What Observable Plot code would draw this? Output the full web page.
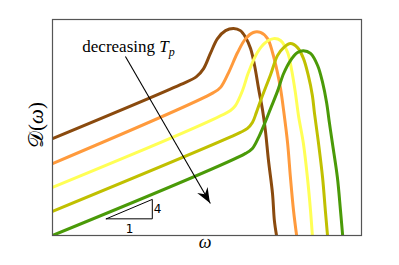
<!DOCTYPE html>
<html>
<head>
<meta charset="utf-8">
<script src="https://cdn.jsdelivr.net/npm/d3@7"></script>
<script src="https://cdn.jsdelivr.net/npm/@observablehq/plot@0.6"></script>
<style>
  html, body { margin: 0; padding: 0; background: #fff; }
  #chart { width: 399px; height: 265px; }
</style>
</head>
<body>
<div id="chart"></div>
<script>
// Series names (decreasing T_p from brown to green) and colours
const seriesNames = ["Tp1", "Tp2", "Tp3", "Tp4", "Tp5"];
const seriesColors = ["#8a4a0e", "#ff9a3c", "#ffff55", "#c0c000", "#4a9a08"];

// log ω and log D(ω) (arbitrary units)
const brownX  = [0, 4.14, 4.66, 4.89, 5.11, 5.34, 5.60, 5.86, 6.08, 6.25, 6.41, 6.54, 6.67, 6.80, 6.89, 6.99, 7.12, 7.18, 7.25];
const brownY  = [3.14, 4.89, 5.15, 5.41, 5.90, 6.38, 6.64, 6.71, 6.64, 6.42, 6.06, 5.51, 4.76, 4.05, 3.40, 2.43, 1.36, 0.49, 0];
const orangeX = [0, 5.21, 5.44, 5.70, 5.99, 6.25, 6.50, 6.73, 6.96, 7.12, 7.28, 7.38, 7.48, 7.61, 7.70, 7.80, 7.90];
const orangeY = [2.33, 4.63, 4.80, 5.28, 5.93, 6.38, 6.58, 6.58, 6.38, 5.93, 5.28, 4.76, 4.05, 2.98, 1.88, 0.81, 0];
const yellowX = [0, 5.76, 5.92, 6.15, 6.34, 6.63, 6.89, 7.15, 7.38, 7.61, 7.73, 7.86, 7.96, 8.12, 8.25, 8.35, 8.41];
const yellowY = [1.56, 4.05, 4.21, 4.70, 5.28, 5.93, 6.25, 6.38, 6.32, 5.93, 5.41, 4.63, 3.89, 2.98, 1.88, 0.81, 0];
const oliveX  = [0, 6.08, 6.31, 6.47, 6.60, 6.76, 7.06, 7.28, 7.48, 7.70, 7.93, 8.12, 8.28, 8.41, 8.48, 8.61, 8.74, 8.83, 8.90];
const oliveY  = [0.78, 3.34, 3.47, 3.66, 3.99, 4.44, 5.22, 5.83, 6.09, 6.22, 6.09, 5.74, 5.18, 4.54, 3.95, 2.98, 1.88, 0.81, 0];
const greenX  = [0, 6.25, 6.47, 6.67, 6.89, 7.06, 7.28, 7.48, 7.70, 7.93, 8.12, 8.35, 8.58, 8.74, 8.87, 8.96, 9.06, 9.22, 9.32, 9.39];
const greenY  = [0, 2.66, 2.82, 3.18, 3.69, 4.12, 4.67, 5.25, 5.67, 5.93, 5.99, 5.90, 5.51, 4.96, 4.31, 3.66, 2.98, 1.88, 0.81, 0];

// Slope triangle (rise 4 over run 1) and its labels
const triX = [1.74, 3.23, 3.23, 1.74];
const triY = [0.54, 0.54, 1.17, 0.54];
const triLabels = [{x: 2.49, y: 0.19, t: "1"}, {x: 3.40, y: 0.84, t: "4"}];

// Annotation
const annotText = "decreasing T_p";
const annotPos = {x: 2.46, y: 6.12};
const arrowFrom = {x: 2.36, y: 5.80};
const arrowTo = {x: 5.11, y: 1.04};

const xs = [brownX, orangeX, yellowX, oliveX, greenX];
const ys = [brownY, orangeY, yellowY, oliveY, greenY];
const rows = [];
seriesNames.forEach((s, i) => xs[i].forEach((x, j) => rows.push({series: s, x, y: ys[i][j]})));
const tri = triX.map((x, i) => ({x, y: triY[i]}));

const plot = Plot.plot({
  width: 399,
  height: 265,
  marginLeft: 52,
  marginRight: 38,
  marginTop: 19,
  marginBottom: 30,
  x: {domain: [0, 10], axis: null},
  y: {domain: [0, 7], axis: null},
  color: {domain: seriesNames, range: seriesColors},
  style: {background: "#fff"},
  marks: [
    Plot.line(rows, {x: "x", y: "y", z: "series", stroke: "series", strokeWidth: 3, curve: "catmull-rom", clip: true}),
    Plot.line(tri, {x: "x", y: "y", stroke: "#000", strokeWidth: 1}),
    Plot.text(triLabels, {x: "x", y: "y", text: "t", fontSize: 12, fontFamily: "DejaVu Sans, sans-serif", fill: "#000"}),
    Plot.link([{x1: arrowFrom.x, y1: arrowFrom.y, x2: arrowTo.x, y2: arrowTo.y}], {x1: "x1", y1: "y1", x2: "x2", y2: "y2", stroke: "#000", strokeWidth: 1.1, markerEnd: "arrow"}),
    Plot.text([annotPos], {x: "x", y: "y", text: () => annotText, fontSize: 17, fill: "#000", className: "annot"}),
    Plot.frame({stroke: "#555", strokeWidth: 1.2})
  ]
});

// rich text for the annotation: italic T with subscript p
d3.select(plot).selectAll(".annot text").each(function() {
  const t = d3.select(this);
  t.text(null);
  t.style("font-family", "'Liberation Serif', serif");
  t.append("tspan").text("decreasing ");
  t.append("tspan").attr("font-style", "italic").text("T");
  t.append("tspan").attr("font-style", "italic").attr("font-size", 12).attr("dy", 4).text("p");
});

const svg = d3.select(plot);
// filled stealth arrowhead placed through the plot's own scales
const sx = plot.scale("x"), sy = plot.scale("y");
const ax1 = sx.apply(arrowFrom.x), ay1 = sy.apply(arrowFrom.y);
const ax2 = sx.apply(arrowTo.x), ay2 = sy.apply(arrowTo.y);
const ang = Math.atan2(ay2 - ay1, ax2 - ax1);
svg.selectAll("marker").remove();
svg.selectAll("[marker-end]").attr("marker-end", null);
const L = 15, W = 6, back = 10;
const pt = (d, w) => [ax2 - d * Math.cos(ang) - w * Math.sin(ang), ay2 - d * Math.sin(ang) + w * Math.cos(ang)];
const head = [pt(0, 0), pt(L, W), pt(back, 0), pt(L, -W)];
svg.append("path")
  .attr("d", "M" + head.map(p => p.join(",")).join("L") + "Z")
  .attr("fill", "#000");

const yl = svg.append("text")
  .attr("transform", "translate(38,125) rotate(-90)")
  .attr("text-anchor", "middle")
  .attr("dominant-baseline", "middle")
  .attr("font-family", "'Liberation Serif', serif")
  .attr("font-size", 21);
yl.append("tspan").text("𝒟(");
yl.append("tspan").attr("font-style", "italic").text("ω");
yl.append("tspan").text(")");

svg.append("text")
  .attr("x", 205)
  .attr("y", 248)
  .attr("text-anchor", "middle")
  .attr("font-family", "'Liberation Serif', serif")
  .attr("font-style", "italic")
  .attr("font-size", 18)
  .text("ω");

document.getElementById("chart").appendChild(plot);
</script>
</body>
</html>
